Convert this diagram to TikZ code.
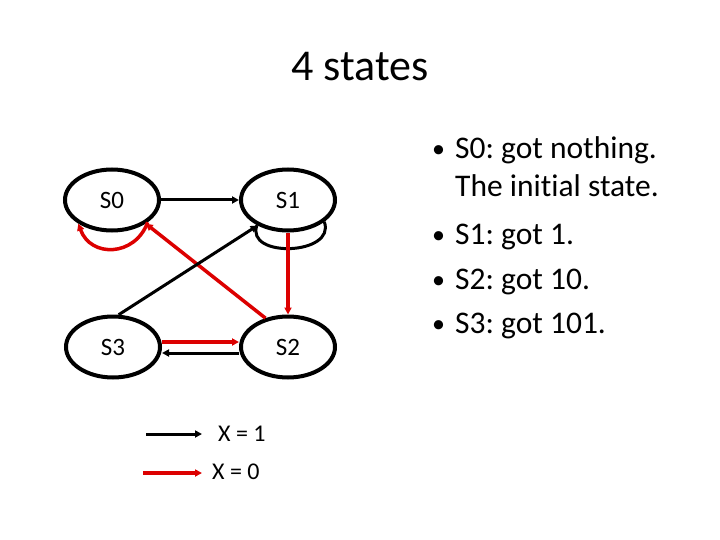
\documentclass[tikz,border=0pt]{standalone}
\usepackage{fontspec}
\setmainfont{Carlito}[Ligatures=NoCommon]
\usetikzlibrary{shapes.geometric,arrows.meta}
\definecolor{arrred}{RGB}{220,0,0}
\tikzset{
  state/.style={ellipse,draw=black,line width=4pt,minimum width=94pt,minimum height=61pt,inner sep=0pt,font=\fontsize{25}{28}\selectfont},
  tipstyle/.style={-{Triangle[length=7pt,width=7pt]}},
  blk/.style={tipstyle,draw=black,line width=3pt},
  red/.style={tipstyle,draw=arrred,line width=3.5pt},
  bullet/.style={anchor=west,inner sep=0pt,font=\fontsize{31.5}{36}\selectfont},
}
\newcommand{\mybul}{\makebox[23pt][l]{\raisebox{1pt}{\fontsize{26}{26}\selectfont\textbullet}}}
\begin{document}
\frenchspacing
\begin{tikzpicture}[x=1pt,y=-1pt]
\useasboundingbox (0,0) rectangle (720,540);
\node[inner sep=0pt,font=\fontsize{44}{50}\selectfont] (title) at (360,67) {4 states};
\node[state] (S0) at (112,200) {S0};
\node[state] (S1) at (288,200) {S1};
\node[state] (S3) at (113,347) {S3};
\node[state] (S2) at (288,347) {S2};
% arrows
\draw[blk] (S0.east) -- (S1.west);
\draw[red] (S0.-32) to[out=-110,in=-70,looseness=1.35] (S0.-145);
\draw[draw=black,line width=3pt] (S1.-141) to[out=-110,in=-70,looseness=1.35] (S1.-31);
\draw[red] (S1.south) -- (S2.north);
\draw[red] (S2.128) -- (S0.-35);
\draw[blk] (S3.80) -- (S1.-140);
\draw[red] ([yshift=5pt]S3.east) -- ([yshift=5pt]S2.west);
\draw[blk] ([yshift=-6pt]S2.west) -- ([yshift=-6pt]S3.east);
% legend
\coordinate (l1a) at (146,434);
\coordinate (l1b) at (202,434);
\coordinate (l2a) at (143,473);
\coordinate (l2b) at (202,473);
\draw[blk] (l1a) -- (l1b);
\draw[red] (l2a) -- (l2b);
\node[anchor=west,inner sep=0pt,font=\fontsize{24}{26}\selectfont] (x1) at (218,434) {X = 1};
\node[anchor=west,inner sep=0pt,font=\fontsize{24}{26}\selectfont] (x0) at (212,472) {X = 0};
% bullets
\node[bullet] (b1) at (432,150) {\mybul S0: got nothing.};
\node[bullet] (b1b) at (455,186) {The initial state.};
\node[bullet] (b2) at (432,237) {\mybul S1: got 1.};
\node[bullet] (b3) at (432,282) {\mybul S2: got 10.};
\node[bullet] (b4) at (432,326) {\mybul S3: got 101.};
\end{tikzpicture}
\end{document}
